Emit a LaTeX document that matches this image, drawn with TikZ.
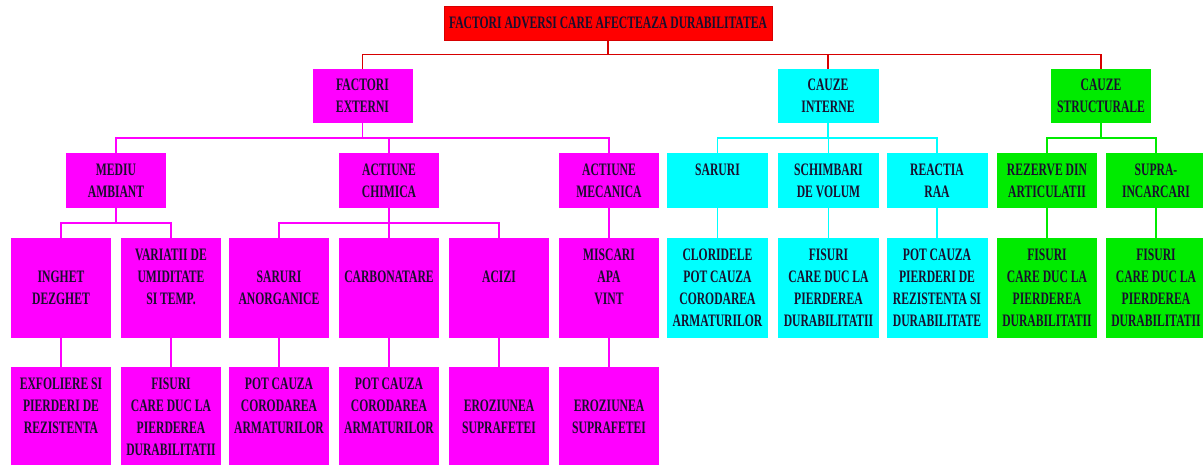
\documentclass[tikz,border=0pt]{standalone}
\usepackage{fontspec}
\setmainfont{Liberation Serif}[FakeStretch=0.665]
\usetikzlibrary{calc}
\definecolor{mag}{RGB}{255,0,255}
\definecolor{cya}{RGB}{0,255,255}
\definecolor{grn}{RGB}{0,235,0}
\definecolor{rd}{RGB}{255,0,0}
\definecolor{rdline}{RGB}{215,0,0}
\definecolor{txtc}{RGB}{25,15,45}
\newcommand\toptext[1]{\parbox[c][110pt][t]{100pt}{\centering\rule{0pt}{22.5pt}#1\par}}
\begin{document}
\begin{tikzpicture}[x=1pt,y=-1pt,
  box/.style={inner sep=0pt, minimum width=100pt, text=txtc,
    font=\fontsize{17.5}{22}\selectfont\bfseries, align=center},
  lone/.style={box, minimum height=54pt},
  ltwo/.style={box, minimum height=55pt},
  lthree/.style={box, minimum height=100pt},
  lfour/.style={box, minimum height=110pt},
  fm/.style={fill=mag}, fc/.style={fill=cya, minimum width=101pt}, fg/.style={fill=grn},
  conn/.style={line width=1.3pt},
  rline/.style={conn, draw=rdline},
  mline/.style={conn, draw=mag},
  cline/.style={conn, draw=cya},
  gline/.style={conn, draw=grn},
  elbow/.style={to path={(\tikztostart) |- ($(\tikztostart)!.5!(\tikztotarget)$) -| (\tikztotarget)}}
]
\clip (0,0) rectangle (1203,465);
\fill[white] (0,0) rectangle (1203,465);

% title
\node[box, fill=rd, draw=rdline, line width=0.6pt, minimum width=328pt, minimum height=34pt] (top) at (608,23)
  {FACTORI ADVERSI CARE AFECTEAZA DURABILITATEA};

% level 1
\node[lone, fm] (fe) at (362.5,96) {FACTORI\\EXTERNI};
\node[lone, fc] (ci) at (828,96) {CAUZE\\INTERNE};
\node[lone, fg] (cs) at (1101,96) {CAUZE\\STRUCTURALE};

% level 2
\node[ltwo, fm] (ma) at (116,180.5) {MEDIU\\AMBIANT};
\node[ltwo, fm] (ac) at (389,180.5) {ACTIUNE\\CHIMICA};
\node[ltwo, fm] (am) at (609,180.5) {ACTIUNE\\MECANICA};
\node[ltwo, fc] (sa) at (717.5,180.5) {SARURI\\\mbox{}};
\node[ltwo, fc] (sv) at (828.5,180.5) {SCHIMBARI\\DE VOLUM};
\node[ltwo, fc] (rr) at (937,180.5) {REACTIA\\RAA};
\node[ltwo, fg] (rz) at (1047,180.5) {REZERVE DIN\\ARTICULATII};
\node[ltwo, fg] (su) at (1156,180.5) {SUPRA-\\INCARCARI};

% level 3
\node[lthree, fm] (ig) at (61,288) {INGHET\\DEZGHET};
\node[lthree, fm] (vu) at (171,288) {VARIATII DE\\UMIDITATE\\SI TEMP.\\\mbox{}};
\node[lthree, fm] (sn) at (279,288) {SARURI\\ANORGANICE};
\node[lthree, fm] (cb) at (389,288) {CARBONATARE\\\mbox{}};
\node[lthree, fm] (az) at (499,288) {ACIZI\\\mbox{}};
\node[lthree, fm] (mi) at (609,288) {MISCARI\\APA\\VINT\\\mbox{}};
\node[lthree, fc] (cl) at (717.5,288) {CLORIDELE\\POT CAUZA\\CORODAREA\\ARMATURILOR};
\node[lthree, fc] (fi) at (828.5,288) {FISURI\\CARE DUC LA\\PIERDEREA\\DURABILITATII};
\node[lthree, fc] (pc) at (937,288) {POT CAUZA\\PIERDERI DE\\REZISTENTA SI\\DURABILITATE};
\node[lthree, fg] (f1) at (1047,288) {FISURI\\CARE DUC LA\\PIERDEREA\\DURABILITATII};
\node[lthree, fg] (f2) at (1156,288) {FISURI\\CARE DUC LA\\PIERDEREA\\DURABILITATII};

% level 4
\node[lfour, fm] (ex) at (61,422) {\toptext{EXFOLIERE SI\\PIERDERI DE\\REZISTENTA}};
\node[lfour, fm] (fv) at (171,422) {\toptext{FISURI\\CARE DUC LA\\PIERDEREA\\DURABILITATII}};
\node[lfour, fm] (p1) at (279,422) {\toptext{POT CAUZA\\CORODAREA\\ARMATURILOR}};
\node[lfour, fm] (p2) at (389,422) {\toptext{POT CAUZA\\CORODAREA\\ARMATURILOR}};
\node[lfour, fm] (e1) at (499,422) {\toptext{\mbox{}\\EROZIUNEA\\SUPRAFETEI}};
\node[lfour, fm] (e2) at (609,422) {\toptext{\mbox{}\\EROZIUNEA\\SUPRAFETEI}};

% connectors
\draw[rline] (top.south) to[elbow] (fe.north);
\draw[rline] (top.south) to[elbow] (ci.north);
\draw[rline] (top.south) to[elbow] (cs.north);

\draw[mline] (fe.south) to[elbow] (ma.north);
\draw[mline] (fe.south) to[elbow] (ac.north);
\draw[mline] (fe.south) to[elbow] (am.north);
\draw[cline] (ci.south) to[elbow] (sa.north);
\draw[cline] (ci.south) to[elbow] (sv.north);
\draw[cline] (ci.south) to[elbow] (rr.north);
\draw[gline] (cs.south) to[elbow] (rz.north);
\draw[gline] (cs.south) to[elbow] (su.north);

\draw[mline] (ma.south) to[elbow] (ig.north);
\draw[mline] (ma.south) to[elbow] (vu.north);
\draw[mline] (ac.south) to[elbow] (sn.north);
\draw[mline] (ac.south) to[elbow] (cb.north);
\draw[mline] (ac.south) to[elbow] (az.north);
\draw[mline] (am.south) -- (mi.north);
\draw[cline] (sa.south) -- (cl.north);
\draw[cline] (sv.south) -- (fi.north);
\draw[cline] (rr.south) -- (pc.north);
\draw[gline] (rz.south) -- (f1.north);
\draw[gline] (su.south) -- (f2.north);

\draw[mline] (ig.south) -- (ex.north);
\draw[mline] (vu.south) -- (fv.north);
\draw[mline] (sn.south) -- (p1.north);
\draw[mline] (cb.south) -- (p2.north);
\draw[mline] (az.south) -- (e1.north);
\draw[mline] (mi.south) -- (e2.north);
\end{tikzpicture}
\end{document}
